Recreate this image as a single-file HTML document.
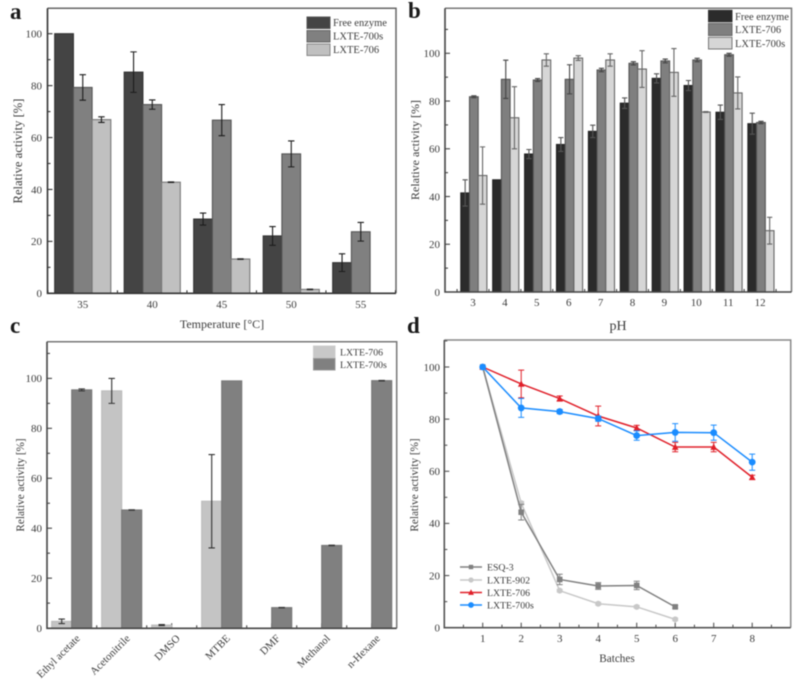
<!DOCTYPE html>
<html><head><meta charset="utf-8"><title>Relative activity panels</title>
<style>
html,body{margin:0;padding:0;background:#fff;width:798px;height:683px;overflow:hidden}
svg{display:block;filter:blur(0.6px)}
text{font-family:"Liberation Serif",serif;fill:#3c3c3c}
</style></head>
<body>
<svg id="fig" width="798" height="683" viewBox="0 0 798 683" xmlns="http://www.w3.org/2000/svg">
<rect x="0" y="0" width="798" height="683" fill="#fff"/>
</svg>
<script>
/* panel a */
const tempCategories = ['35','40','45','50','55'];
const tempFree = [100,85.2,28.6,22.1,11.8];
const tempFreeErr = [0,7.8,2.3,3.6,3.4];
const temp700s = [79.3,72.7,66.7,53.7,23.7];
const temp700sErr = [4.9,1.8,6,5,3.6];
const temp706 = [66.9,42.8,13.2,1.5,0];
const temp706Err = [1.1,0.1,0.1,0.1,0];
/* panel b */
const phCategories = ['3','4','5','6','7','8','9','10','11','12'];
const phFree = [41.5,47,57.8,61.8,67.3,79.1,89.5,86.5,75.3,70.5];
const phFreeErr = [5.5,0,1.9,2.9,2.6,2.2,1.9,2.1,3,4.4];
const ph706 = [81.8,89.1,88.8,89.1,93,95.8,96.8,97.2,99.4,71];
const ph706Err = [0.4,8,0.6,6.1,0.7,0.7,0.8,0.7,0.6,0.5];
const ph700s = [48.8,73,97.2,98,97.2,93.4,92,75.4,83.4,25.7];
const ph700sErr = [12,13,2.6,1,2.6,7.7,10,0.2,6.7,5.6];
/* panel c */
const solventCategories = ['Ethyl acetate','Acetonitrile','DMSO','MTBE','DMF','Methanol','n-Hexane'];
const solvent706 = [2.7,95,1.2,50.8,0,0,0];
const solvent706Err = [0.9,5,0.2,18.7,0,0,0];
const solvent700s = [95.4,47.3,0,99,8.2,33.1,99.1];
const solvent700sErr = [0.4,0.1,0,0,0.1,0.1,0.1];
/* panel d */
const batchCategories = ['1','2','3','4','5','6','7','8'];
const batchEsq3 = [100,44.3,18.5,16,16.2,8];
const batchEsq3Err = [0,3,2,1.3,1.6,0.5];
const batch902 = [100,47.8,14.2,9.2,8,3.2];
const batch902Err = [0,0.6,0.5,0.5,0.5,0.5];
const batch706 = [100,93.5,87.9,81.2,76.6,69.3,69.3,57.7];
const batch706Err = [0,5.3,1,3.8,1,1.8,1.8,0.8];
const batch700s = [100,84.3,82.9,80.2,73.7,74.9,74.8,63.5];
const batch700sErr = [0,3.6,0.8,1,1.8,3.4,2.9,3.1];
const yTickLabels = [0,20,40,60,80,100];

const svg = document.getElementById('fig');
const NS = 'http://www.w3.org/2000/svg';
function mk(tag, props, parent){
  const e = document.createElementNS(NS, tag);
  for (const k in props) e.setAttribute(k, props[k]);
  (parent || svg).appendChild(e);
  return e;
}
function label(str, props, parent){
  const t = mk('text', props, parent);
  t.textContent = str;
  return t;
}
function makeAxes(o){
  const g = mk('g', {});
  
  
  const y = v => o.y0 - v * o.py;
  const x = i => o.x0 + i * o.step;

  const frame = mk('path', {d:`M${o.left} ${o.top}H${o.right}V${o.bottom}`, fill:'none', stroke:o.frameLight, 'stroke-width':1.5}, g);
  
  

  const ticksG = mk('g', {stroke:o.axisColor, 'stroke-width':1.1, fill:'none'}, g);
  
  

  const maxV = (o.y0 - o.top) / o.py;
  for (let v = 10; v < maxV; v += 10){
    const major = v % 20 === 0;
    mk('line', {x1:o.left, x2:o.left + (major ? 5 : 3), y1:y(v), y2:y(v)}, ticksG);
  }
  yTickLabels.forEach(v => {
    const t = label(v, {x:o.yLabelX, y:y(v) + 3.8, 'text-anchor':'end', 'font-size':o.tickSize}, g);
    
    
  });
  for (let i = -0.5; x(i) < o.right; i += 0.5){
    if (x(i) <= o.left) continue;
    const major = Number.isInteger(i);
    mk('line', {x1:x(i), x2:x(i), y1:o.bottom, y2:o.bottom - (major ? 5 : 3)}, ticksG);
  }
  const yTitle = label('Relative activity [%]', {transform:`translate(${o.yTitleX} ${o.yTitleY}) rotate(-90)`, 'text-anchor':'middle', 'font-size':o.titleSize}, g);
  
  

  return {g, x, y, finish(){
    const ax = mk('path', {d:`M${o.left} ${o.top}V${o.bottom}H${o.right}`, fill:'none', stroke:o.axisColor, 'stroke-width':1.6}, g);
    
    
  }};
}
function drawBars(ax, values, errs, offset, width, fill, stroke, errColor, name){
  values.forEach((v, i) => {
    if (v <= 0) return;
    const bx = ax.x(i) + offset;
    const r = mk('rect', {x:bx, y:ax.y(v), width:width, height:ax.y(0) - ax.y(v), fill:fill, stroke:stroke, 'stroke-width':1.1}, ax.g);
    
    
  });
  values.forEach((v, i) => {
    const e = errs[i];
    if (v <= 0 || e <= 0) return;
    const cx = ax.x(i) + offset + width / 2;
    const cap = Math.min(width * 0.3, 3.2);
    const b = mk('path', {d:`M${cx} ${ax.y(v + e)}V${ax.y(v - e)}M${cx - cap} ${ax.y(v + e)}H${cx + cap}M${cx - cap} ${ax.y(v - e)}H${cx + cap}`, fill:'none', stroke:errColor, 'stroke-width':1.1}, ax.g);
    
    
  });
}
function swatch(panel, x, y, w, h, fill, stroke, text, tx, ty, size){
  const r = mk('rect', {x:x, y:y, width:w, height:h, fill:fill, stroke:stroke, 'stroke-width':1}, panel.g);
  
  
  const t = label(text, {x:tx, y:ty, 'font-size':size}, panel.g);
  
  
}
function marker(parent, kind, cx, cy, color, s){
  let m;
  if (kind === 'square') m = mk('rect', {x:cx - s, y:cy - s, width:2 * s, height:2 * s, fill:color}, parent);
  else if (kind === 'triangle') m = mk('path', {d:`M${cx} ${cy - s - 0.8}L${cx + s + 0.5} ${cy + s}H${cx - s - 0.5}Z`, fill:color}, parent);
  else if (kind === 'diamond') m = mk('circle', {cx:cx, cy:cy, r:s + 0.4, fill:color}, parent);
  else m = mk('circle', {cx:cx, cy:cy, r:s, fill:color}, parent);
  
  
}
function drawSeries(ax, values, errs, color, kind, size, name){
  const d = values.map((v, i) => (i ? 'L' : 'M') + ax.x(i) + ' ' + ax.y(v)).join('');
  const l = mk('path', {d:d, fill:'none', stroke:color, 'stroke-width':1.5}, ax.g);
  
  
  values.forEach((v, i) => {
    const cx = ax.x(i), e = errs[i];
    if (e > 0){
      const b = mk('path', {d:`M${cx} ${ax.y(v + e)}V${ax.y(v - e)}M${cx - 3} ${ax.y(v + e)}H${cx + 3}M${cx - 3} ${ax.y(v - e)}H${cx + 3}`, fill:'none', stroke:color, 'stroke-width':1}, ax.g);
      
      
    }
    marker(ax.g, kind, cx, ax.y(v), color, size);
  });
}
function legendLine(panel, y, color, kind, size, text){
  const l = mk('line', {x1:460, x2:482, y1:y, y2:y, stroke:color, 'stroke-width':1.4}, panel.g);
  
  
  marker(panel.g, kind, 471, y, color, size);
  const t = label(text, {x:487, y:y + 3.4, 'font-size':9.8}, panel.g);
  
  
}
function panelLetter(ch, x, y){
  const t = label(ch, {x:x, y:y, 'font-size':23, 'font-weight':'bold', style:'fill:#1a1a1a'});
  
  
}
function xLabels(ax, cats, y, size, name){
  cats.forEach((c, i) => {
    const t = label(c, {x:ax.x(i), y:y, 'text-anchor':'middle', 'font-size':size}, ax.g);
    
    
  });
}
function xTitle(ax, str, x, y, size, name){
  const t = label(str, {x:x, y:y, 'text-anchor':'middle', 'font-size':size}, ax.g);
  
  
}

/* ---------- panel a ---------- */
const a = makeAxes({name:'temperature', left:47.5, right:396, top:8.3, bottom:293.3, y0:293.3, py:2.596, x0:82.7, step:69.5,
  axisColor:'#333', frameLight:'#666', tickSize:11, titleSize:12.6, yLabelX:42, yTitleX:22, yTitleY:151});
drawBars(a, tempFree, tempFreeErr, -28, 18.7, '#444', '#333', '#1c1c1c', 'free-enzyme');
drawBars(a, temp700s, temp700sErr, -9.3, 18.7, '#808080', '#555', '#1c1c1c', 'lxte-700s');
drawBars(a, temp706, temp706Err, 9.4, 18.7, '#c0c0c0', '#777', '#1c1c1c', 'lxte-706');
xLabels(a, tempCategories, 308, 11, 'temperature');
xTitle(a, 'Temperature [°C]', 222, 328, 12, 'temperature');
swatch(a, 307, 17, 23, 11.5, '#444', '#555', 'Free enzyme', 333, 26, 10.5);
swatch(a, 307, 30.5, 23, 11.5, '#808080', '#666', 'LXTE-700s', 333, 39.5, 10.5);
swatch(a, 307, 44, 23, 11.5, '#c0c0c0', '#888', 'LXTE-706', 333, 53, 10.5);
a.finish();

/* ---------- panel b ---------- */
const b = makeAxes({name:'ph', left:445, right:791.5, top:8.3, bottom:292, y0:292, py:2.387, x0:473, step:31.9,
  axisColor:'#444', frameLight:'#777', tickSize:11, titleSize:12, yLabelX:440, yTitleX:419, yTitleY:150});
drawBars(b, phFree, phFreeErr, -12.2, 8.7, '#2b2b2b', '#222', '#555', 'free-enzyme');
drawBars(b, ph706, ph706Err, -3.5, 8.7, '#7f7f7f', '#555', '#444', 'lxte-706');
drawBars(b, ph700s, ph700sErr, 5.2, 8.7, '#d6d6d6', '#666', '#666', 'lxte-700s');
xLabels(b, phCategories, 306, 11, 'ph');
xTitle(b, 'pH', 618, 330, 14, 'ph');
swatch(b, 708.5, 10.3, 23.5, 11.5, '#2b2b2b', '#333', 'Free enzyme', 735, 20, 10.5);
swatch(b, 708.5, 23.5, 23.5, 12, '#7f7f7f', '#666', 'LXTE-706', 735, 33, 10.5);
swatch(b, 708.5, 37.3, 23.5, 11.7, '#d6d6d6', '#777', 'LXTE-700s', 735, 47, 10.5);
b.finish();

/* ---------- panel c ---------- */
const c = makeAxes({name:'solvent', left:47, right:396.7, top:341.7, bottom:628.3, y0:628.1, py:2.497, x0:71.7, step:50,
  axisColor:'#444', frameLight:'#777', tickSize:11, titleSize:11.2, yLabelX:42, yTitleX:24, yTitleY:485});
drawBars(c, solvent706, solvent706Err, -20, 20, '#c4c4c4', '#bbb', '#333', 'lxte-706');
drawBars(c, solvent700s, solvent700sErr, 0, 20, '#808080', '#777', '#333', 'lxte-700s');
solventCategories.forEach((s, i) => {
  const t = label(s, {transform:`translate(${c.x(i) + 9} 639) rotate(-45)`, 'text-anchor':'end', 'font-size':10.8}, c.g);
  
  
});
swatch(c, 313.5, 346, 21.5, 11.5, '#c8c8c8', '#ccc', 'LXTE-706', 340, 355.5, 9.8);
swatch(c, 313.5, 358.5, 21.5, 11.5, '#808080', '#999', 'LXTE-700s', 340, 368, 9.8);
c.finish();

/* ---------- panel d ---------- */
const d = makeAxes({name:'batches', left:444.3, right:790.7, top:340, bottom:627.7, y0:627.7, py:2.607, x0:482.7, step:38.5,
  axisColor:'#555', frameLight:'#888', tickSize:11, titleSize:11.2, yLabelX:440, yTitleX:418, yTitleY:485});
drawSeries(d, batch902, batch902Err, '#c8c8c8', 'circle', 3, 'lxte-902');
drawSeries(d, batchEsq3, batchEsq3Err, '#808080', 'square', 2.8, 'esq-3');
drawSeries(d, batch706, batch706Err, '#e0202a', 'triangle', 2.8, 'lxte-706');
drawSeries(d, batch700s, batch700sErr, '#1a8cff', 'diamond', 3, 'lxte-700s');
xLabels(d, batchCategories, 642, 11, 'batches');
xTitle(d, 'Batches', 617, 662, 11.2, 'batches');
legendLine(d, 567, '#808080', 'square', 2.2, 'ESQ-3');
legendLine(d, 580, '#c8c8c8', 'circle', 2.6, 'LXTE-902');
legendLine(d, 592.5, '#e0202a', 'triangle', 2.4, 'LXTE-706');
legendLine(d, 605, '#1a8cff', 'diamond', 2.5, 'LXTE-700s');
d.finish();

panelLetter('a', 10, 19);
panelLetter('b', 408, 18);
panelLetter('c', 10, 333);
panelLetter('d', 407, 333);
</script>
</body></html>
